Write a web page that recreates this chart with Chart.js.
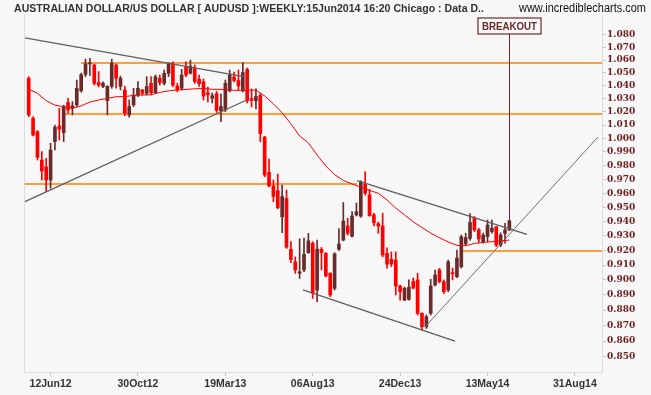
<!DOCTYPE html>
<html lang="en">
<head>
<meta charset="UTF-8">
<title>AUDUSD Weekly</title>
<script src="https://cdn.jsdelivr.net/npm/chart.js"></script>
<style>
  html, body { margin: 0; padding: 0; background: #f7f7f7; }
  #chart { display: block; }
</style>
</head>
<body>
<canvas id="chart" width="651" height="395"></canvas>
<script>
// weekly candles, one per week, index 0 = first bar on the left
const openP = [
  1.0458, 1.0151, 1.0050, 0.9840, 0.9790, 0.9695, 0.9976, 1.0093, 1.0043, 1.0270,
  1.0227, 1.0252, 1.0360, 1.0488, 1.0570, 1.0561, 1.0424, 1.0395, 1.0285, 1.0395,
  1.0561, 1.0395, 1.0367, 1.0176, 1.0252, 1.0328, 1.0367, 1.0341, 1.0418, 1.0346,
  1.0458, 1.0418, 1.0496, 1.0568, 1.0398, 1.0380, 1.0548, 1.0496, 1.0537, 1.0450,
  1.0429, 1.0345, 1.0303, 1.0338, 1.0207, 1.0214, 1.0360, 1.0468, 1.0440, 1.0360,
  1.0526, 1.0302, 1.0283, 1.0325, 1.0010, 0.9750, 0.9652, 0.9618, 0.9433, 0.9562,
  0.9208, 0.9122, 0.9045, 0.9067, 0.9185, 0.9249, 0.8933, 0.9208, 0.9180, 0.9045,
  0.8944, 0.9208, 0.9271, 0.9369, 0.9297, 0.9446, 0.9437, 0.9666, 0.9588, 0.9446,
  0.9385, 0.9369, 0.9180, 0.9139, 0.9134, 0.8960, 0.8866, 0.8871, 0.8990, 0.9000,
  0.8779, 0.8692, 0.8779, 0.8966, 0.9067, 0.8988, 0.8933, 0.9049, 0.9022, 0.9089,
  0.9245, 0.9283, 0.9423, 0.9341, 0.9260, 0.9295, 0.9330, 0.9364, 0.9237, 0.9318,
  0.9341
];
const highP = [
  1.0470, 1.0163, 1.0058, 0.9902, 0.9853, 0.9964, 1.0100, 1.0225, 1.0250, 1.0303,
  1.0278, 1.0444, 1.0499, 1.0608, 1.0613, 1.0568, 1.0510, 1.0430, 1.0400, 1.0608,
  1.0568, 1.0475, 1.0395, 1.0290, 1.0380, 1.0432, 1.0372, 1.0470, 1.0470, 1.0483,
  1.0483, 1.0522, 1.0578, 1.0586, 1.0418, 1.0527, 1.0586, 1.0600, 1.0561, 1.0483,
  1.0452, 1.0390, 1.0344, 1.0356, 1.0338, 1.0444, 1.0522, 1.0506, 1.0522, 1.0580,
  1.0537, 1.0375, 1.0375, 1.0340, 1.0015, 0.9847, 0.9695, 0.9738, 0.9659, 0.9623,
  0.9260, 0.9156, 0.9280, 0.9285, 0.9317, 0.9260, 0.9271, 0.9220, 0.9185, 0.9049,
  0.9185, 0.9350, 0.9534, 0.9423, 0.9469, 0.9530, 0.9690, 0.9755, 0.9628, 0.9458,
  0.9396, 0.9458, 0.9217, 0.9190, 0.9190, 0.8966, 0.8953, 0.9000, 0.9013, 0.9045,
  0.8783, 0.8768, 0.9005, 0.9067, 0.9078, 0.9000, 0.9134, 0.9080, 0.9203, 0.9306,
  0.9318, 0.9456, 0.9435, 0.9353, 0.9320, 0.9410, 0.9410, 0.9366, 0.9321, 0.9387,
  0.9410
];
const lowP = [
  1.0163, 1.0018, 0.9840, 0.9695, 0.9611, 0.9635, 0.9914, 0.9988, 0.9976, 1.0189,
  1.0176, 1.0240, 1.0350, 1.0470, 1.0480, 1.0405, 1.0390, 1.0385, 1.0176, 1.0380,
  1.0380, 1.0367, 1.0171, 1.0158, 1.0240, 1.0315, 1.0328, 1.0328, 1.0328, 1.0341,
  1.0405, 1.0405, 1.0470, 1.0393, 1.0354, 1.0367, 1.0470, 1.0491, 1.0418, 1.0395,
  1.0290, 1.0275, 1.0267, 1.0195, 1.0126, 1.0201, 1.0352, 1.0429, 1.0367, 1.0352,
  1.0267, 1.0237, 1.0222, 0.9976, 0.9719, 0.9645, 0.9540, 0.9490, 0.9322, 0.9214,
  0.9116, 0.9044, 0.9010, 0.9055, 0.9180, 0.8877, 0.8855, 0.9067, 0.9020, 0.8889,
  0.8933, 0.9200, 0.9266, 0.9306, 0.9292, 0.9439, 0.9430, 0.9588, 0.9437, 0.9369,
  0.9318, 0.9156, 0.9080, 0.9090, 0.8900, 0.8866, 0.8862, 0.8866, 0.8940, 0.8768,
  0.8670, 0.8681, 0.8768, 0.8960, 0.8980, 0.8910, 0.8922, 0.9000, 0.9015, 0.9080,
  0.9233, 0.9271, 0.9330, 0.9254, 0.9250, 0.9260, 0.9318, 0.9226, 0.9226, 0.9250,
  0.9336
];
const closeP = [
  1.0176, 1.0025, 0.9860, 0.9760, 0.9695, 0.9914, 1.0083, 1.0068, 1.0240, 1.0214,
  1.0245, 1.0380, 1.0486, 1.0571, 1.0577, 1.0418, 1.0405, 1.0420, 1.0395, 1.0576,
  1.0458, 1.0458, 1.0189, 1.0240, 1.0328, 1.0380, 1.0341, 1.0393, 1.0346, 1.0470,
  1.0424, 1.0496, 1.0568, 1.0405, 1.0367, 1.0483, 1.0483, 1.0553, 1.0432, 1.0415,
  1.0321, 1.0330, 1.0323, 1.0210, 1.0240, 1.0418, 1.0483, 1.0440, 1.0398, 1.0502,
  1.0283, 1.0286, 1.0317, 1.0035, 0.9731, 0.9652, 0.9577, 0.9497, 0.9576, 0.9222,
  0.9138, 0.9067, 0.9055, 0.9173, 0.9266, 0.8911, 0.9208, 0.9185, 0.9027, 0.8900,
  0.9176, 0.9244, 0.9403, 0.9318, 0.9439, 0.9469, 0.9683, 0.9600, 0.9441, 0.9391,
  0.9369, 0.9168, 0.9107, 0.9107, 0.8960, 0.8922, 0.8944, 0.8951, 0.8946, 0.8779,
  0.8692, 0.8757, 0.8960, 0.9033, 0.8988, 0.8922, 0.9122, 0.9040, 0.9148, 0.9294,
  0.9288, 0.9393, 0.9341, 0.9278, 0.9306, 0.9376, 0.9353, 0.9237, 0.9306, 0.9341,
  0.9405
];
const weeks = openP.map((_, i) => i);

// moving average, read every second week
const maWeeks = [
  0, 2, 4, 6, 8, 10, 12, 14, 16, 18, 20, 22, 24, 26, 28, 30, 32, 34, 36, 38,
  40, 42, 44, 46, 48, 50, 52, 54, 56, 58, 60, 62, 64, 66, 68, 70, 72, 74, 76, 78,
  80, 82, 84, 86, 88, 90, 92, 94, 96, 98, 100, 102, 104, 106, 108, 110
];
const maValues = [
  1.0372, 1.0341, 1.0285, 1.0250, 1.0239, 1.0227, 1.0245, 1.0274, 1.0290, 1.0302,
  1.0315, 1.0316, 1.0325, 1.0328, 1.0330, 1.0348, 1.0360, 1.0367, 1.0371, 1.0376,
  1.0379, 1.0372, 1.0371, 1.0366, 1.0363, 1.0365, 1.0366, 1.0321, 1.0260, 1.0192,
  1.0109, 1.0018, 0.9966, 0.9877, 0.9796, 0.9734, 0.9692, 0.9666, 0.9643, 0.9620,
  0.9600, 0.9552, 0.9495, 0.9446, 0.9398, 0.9358, 0.9320, 0.9287, 0.9258, 0.9235,
  0.9232, 0.9248, 0.9255, 0.9260, 0.9266, 0.9271
];

// hand-drawn trend lines: [fromWeek, fromPrice, toWeek, toPrice]
const trendLines = [
  [-0.87, 1.0776, 49.27, 1.0471],
  [-0.87, 0.9540, 49.89, 1.0290],
  [75.13, 0.9690, 114.03, 0.9311],
  [62.77, 0.8933, 97.55, 0.8600]
];
const riseLine = [90.69, 0.8690, 130.27, 1.0010];

// horizontal support / resistance levels: [fromWeek, toWeek, price]
const levels = [
  [11.97, 131.2, 1.0577],
  [8.19, 131.2, 1.0183],
  [-1.08, 75.13, 0.9666],
  [99.38, 131.2, 0.9196]
];

const tickWeeks = [5, 25, 45, 65, 85, 105, 125];
const tickLabels = ['12Jun12', '30Oct12', '19Mar13', '06Aug13', '24Dec13', '13May14', '31Aug14'];
const yTicks = [1.080, 1.070, 1.060, 1.050, 1.040, 1.030, 1.020, 1.010, 1.000, 0.990, 0.980,
  0.970, 0.960, 0.950, 0.940, 0.930, 0.920, 0.910, 0.900, 0.890, 0.880, 0.870, 0.860, 0.850];

const titleText = 'AUSTRALIAN DOLLAR/US DOLLAR [ AUDUSD ]:WEEKLY:15Jun2014 16:20 Chicago : Data D..';
const siteText = 'www.incrediblecharts.com';
const breakoutWeek = 110;
const breakoutText = 'BREAKOUT';

const UP = '#6b2a2a';
const DOWN = '#ff0000';
const candleColor = weeks.map(i => closeP[i] >= openP[i] ? UP : DOWN);

const seg = (x1, y1, x2, y2) => [{ x: x1, y: y1 }, { x: x2, y: y2 }];

const datasets = [
  {
    type: 'line',
    data: maWeeks.map((w, i) => ({ x: w, y: maValues[i] })),
    borderColor: '#ff0000', borderWidth: 1, pointRadius: 0, order: 0
  },
  ...trendLines.map(t => ({
    type: 'line', data: seg(t[0], t[1], t[2], t[3]),
    borderColor: '#5e5e5e', borderWidth: 1.3, pointRadius: 0, order: 0
  })),
  {
    type: 'line', data: seg(riseLine[0], riseLine[1], riseLine[2], riseLine[3]),
    borderColor: '#6e6e6e', borderWidth: 1, pointRadius: 0, order: 0
  },
  {
    type: 'bar',
    data: weeks.map(i => ({ x: i, y: [openP[i], closeP[i]] })),
    backgroundColor: candleColor, barThickness: 3, minBarLength: 1, grouped: false, order: 1
  },
  {
    type: 'bar',
    data: weeks.map(i => ({ x: i, y: [lowP[i], highP[i]] })),
    backgroundColor: candleColor, barThickness: 1, grouped: false, order: 2
  },
  ...levels.map(l => ({
    type: 'line', data: seg(l[0], l[2], l[1], l[2]),
    borderColor: '#ff8000', borderWidth: 1.5, pointRadius: 0, order: 3
  }))
];

const decor = {
  id: 'decor',
  beforeDraw(chart) {
    const ctx = chart.ctx;
    ctx.save();
    ctx.fillStyle = '#f7f7f7';
    ctx.fillRect(0, 0, chart.width, chart.height);
    ctx.restore();
  },
  afterDraw(chart) {
    const { ctx, chartArea: a, scales: { x, y } } = chart;
    ctx.save();
    // left frame
    ctx.strokeStyle = '#dcdcdc';
    ctx.lineWidth = 1;
    ctx.beginPath();
    ctx.moveTo(a.left + 0.5, a.top);
    ctx.lineTo(a.left + 0.5, a.bottom);
    ctx.stroke();

    // header texts
    ctx.textBaseline = 'alphabetic';
    ctx.fillStyle = '#333';
    ctx.font = 'bold 11.5px "Liberation Sans", Arial, sans-serif';
    ctx.textAlign = 'left';
    ctx.fillText(titleText, 14, 12, 470);
    ctx.fillStyle = '#111';
    ctx.font = '12.5px "Liberation Sans", Arial, sans-serif';
    ctx.textAlign = 'right';
    ctx.fillText(siteText, 646, 12, 127);

    // breakout marker
    const bx = Math.round(x.getPixelForValue(breakoutWeek)) + 0.5;
    const by = y.getPixelForValue(highP[breakoutWeek]);
    ctx.strokeStyle = '#6b2a2a';
    ctx.beginPath();
    ctx.moveTo(bx, 34);
    ctx.lineTo(bx, by);
    ctx.stroke();
    ctx.fillStyle = '#f9f9f9';
    ctx.fillRect(bx - 31.5, 18, 63, 16);
    ctx.lineWidth = 1.2;
    ctx.strokeRect(bx - 31.5, 18, 63, 16);
    ctx.fillStyle = '#6b2a2a';
    ctx.font = 'bold 11px "Liberation Sans", Arial, sans-serif';
    ctx.textAlign = 'center';
    ctx.fillText(breakoutText, bx, 30, 55);
    ctx.restore();
  }
};

new Chart(document.getElementById('chart'), {
  type: 'bar',
  data: { datasets },
  plugins: [decor],
  options: {
    responsive: false,
    animation: false,
    devicePixelRatio: 1,
    layout: { padding: { top: 14, left: 24, right: 0, bottom: 0 } },
    plugins: { legend: { display: false }, tooltip: { enabled: false } },
    scales: {
      x: {
        type: 'linear', min: -1.08, max: 131.2, bounds: 'data', offset: false,
        afterBuildTicks: s => { s.ticks = tickWeeks.map(v => ({ value: v })); },
        afterFit: s => { s.height = 23; },
        grid: { drawOnChartArea: false, tickLength: 4, color: '#c8c8c8', offset: false },
        border: { color: '#dcdcdc' },
        ticks: {
          autoSkip: false, maxRotation: 0, padding: 2, color: '#333',
          font: { family: '"Liberation Sans", Arial, sans-serif', size: 10.5, weight: 'bold' },
          callback: (v, i) => tickLabels[i]
        }
      },
      y: {
        type: 'logarithmic', position: 'right', min: 0.8404, max: 1.097, bounds: 'data',
        afterBuildTicks: s => { s.ticks = yTicks.map(v => ({ value: v })); },
        afterFit: s => { s.width = 49; },
        grid: { drawOnChartArea: false, tickLength: 4, color: '#c8c8c8' },
        border: { color: '#dcdcdc' },
        ticks: {
          autoSkip: false, padding: 1, color: '#6b1f1f',
          font: { family: '"DejaVu Serif", serif', size: 9, weight: 'bold' },
          callback: v => Number(v).toFixed(3)
        }
      }
    }
  }
});
</script>
</body>
</html>
